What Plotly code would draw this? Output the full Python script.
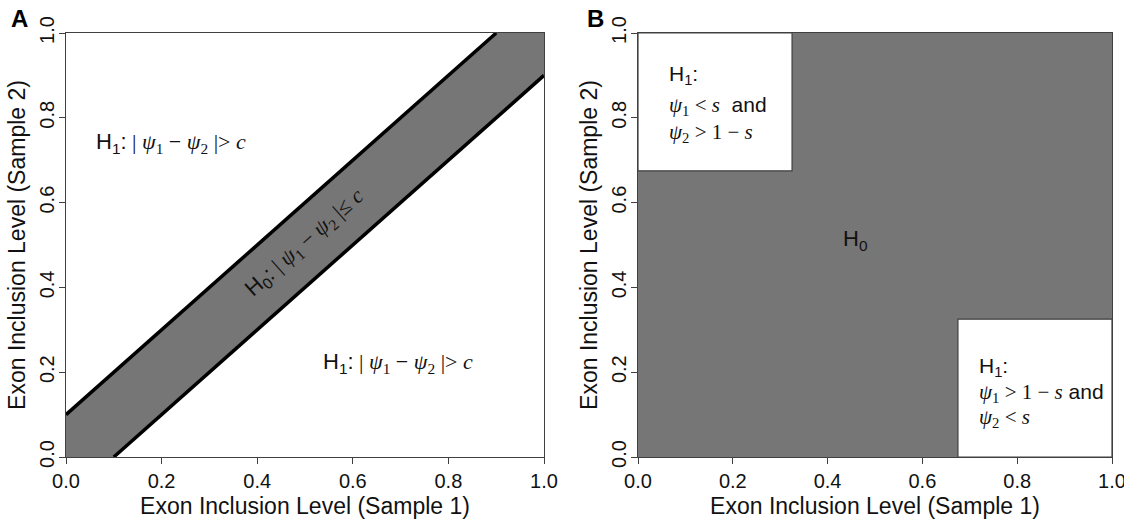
import plotly.graph_objects as go

# ---- data ----
c = 0.1            # band half-width in panel A
s = 0.325          # threshold in panel B
ticks = [0.0, 0.2, 0.4, 0.6, 0.8, 1.0]
tick_labels = ["0.0", "0.2", "0.4", "0.6", "0.8", "1.0"]
xtitle = "Exon Inclusion Level (Sample 1)"
ytitle = "Exon Inclusion Level (Sample 2)"

GRAY = "#767676"
FRAME = "#404040"
SANS = "Liberation Sans, Arial, sans-serif"
SERIF = "Liberation Serif, Times New Roman, serif"

W, H = 1124, 524
fig = go.Figure()

# Panel A: band |psi1 - psi2| <= c
band_x = [0, 0, 1 - c, 1, 1, c, 0]
band_y = [0, c, 1, 1, 1 - c, 0, 0]
fig.add_trace(go.Scatter(x=band_x, y=band_y, fill="toself", fillcolor=GRAY,
                         mode="lines", line=dict(width=0), xaxis="x", yaxis="y",
                         hoverinfo="skip", showlegend=False))
fig.add_trace(go.Scatter(x=[0, 1 - c], y=[c, 1], mode="lines",
                         line=dict(color="black", width=3.5), xaxis="x", yaxis="y",
                         showlegend=False))
fig.add_trace(go.Scatter(x=[c, 1], y=[0, 1 - c], mode="lines",
                         line=dict(color="black", width=3.5), xaxis="x", yaxis="y",
                         showlegend=False))

# Panel B: gray H0 region with two white H1 boxes
fig.add_trace(go.Scatter(x=[0, 1, 1, 0, 0], y=[0, 0, 1, 1, 0], fill="toself",
                         fillcolor=GRAY, mode="lines", line=dict(width=0),
                         xaxis="x2", yaxis="y2", hoverinfo="skip", showlegend=False))
fig.add_trace(go.Scatter(x=[0, s, s, 0, 0], y=[1 - s, 1 - s, 1, 1, 1 - s], fill="toself",
                         fillcolor="white", mode="lines", line=dict(color=FRAME, width=1.2),
                         xaxis="x2", yaxis="y2", hoverinfo="skip", showlegend=False))
fig.add_trace(go.Scatter(x=[1 - s, 1, 1, 1 - s, 1 - s], y=[0, 0, s, s, 0], fill="toself",
                         fillcolor="white", mode="lines", line=dict(color=FRAME, width=1.2),
                         xaxis="x2", yaxis="y2", hoverinfo="skip", showlegend=False))

x1d = [66 / W, 544 / W]
x2d = [638 / W, 1112 / W]
yd = [(H - 457) / H, (H - 33) / H]

def xax(domain, anchor):
    return dict(domain=domain, anchor=anchor, range=[0, 1], showgrid=False, zeroline=False,
                showline=True, linecolor=FRAME, linewidth=1, mirror=True,
                ticks="outside", ticklen=6, tickcolor=FRAME, tickvals=ticks, ticktext=tick_labels,
                tickfont=dict(family=SANS, size=20, color="#111"),
                ticklabeloverflow="allow",
                title=dict(text=xtitle, font=dict(family=SANS, size=23, color="#111"), standoff=6),
                automargin=False, fixedrange=True)

def yax(anchor):
    return dict(domain=yd, anchor=anchor, range=[0, 1], showgrid=False, zeroline=False,
                showline=True, linecolor=FRAME, linewidth=1, mirror=True,
                ticks="outside", ticklen=6, tickcolor=FRAME, tickvals=ticks, ticktext=tick_labels,
                tickangle=-90, ticklabelstandoff=-3, ticklabeloverflow="allow",
                tickfont=dict(family=SANS, size=20, color="#111"),
                title=dict(text=ytitle, font=dict(family=SANS, size=23, color="#111"), standoff=3),
                automargin=False, fixedrange=True)

sp = lambda t: f'<span style="font-family:{SERIF}">{t}</span>'
h1_A = 'H<sub>1</sub>:' + sp(' | <i>ψ</i><sub>1</sub> − <i>ψ</i><sub>2</sub> |&gt; <i>c</i>')
h0_A = 'H<sub>0</sub>:' + sp(' | <i>ψ</i><sub>1</sub> − <i>ψ</i><sub>2</sub> |≤ <i>c</i>')

ann = []
base = dict(showarrow=False, font=dict(family=SANS, size=22, color="#111"))
ann.append(dict(base, x=0.22, y=0.74, xref="x", yref="y", text=h1_A))
ann.append(dict(base, x=0.695, y=0.222, xref="x", yref="y", text=h1_A))
ann.append(dict(base, x=0.5, y=0.505, xref="x", yref="y", text=h0_A, textangle=-41.6))
ann.append(dict(base, x=0.458, y=0.512, xref="x2", yref="y2", text="H<sub>0</sub>"))

# boxes text
left = dict(showarrow=False, font=dict(family=SANS, size=21, color="#111"),
            xanchor="left", xref="x2", yref="y2")
ann.append(dict(left, x=0.061, y=0.901, text="H<sub>1</sub>:"))
ann.append(dict(left, x=0.061, y=0.828, text=sp('<i>ψ</i><sub>1</sub> &lt; <i>s</i>') + '  and'))
ann.append(dict(left, x=0.061, y=0.764, text=sp('<i>ψ</i><sub>2</sub> &gt; 1 − <i>s</i>')))
ann.append(dict(left, x=0.715, y=0.212, text="H<sub>1</sub>:"))
ann.append(dict(left, x=0.715, y=0.151, text=sp('<i>ψ</i><sub>1</sub> &gt; 1 − <i>s</i>') + ' and'))
ann.append(dict(left, x=0.715, y=0.092, text=sp('<i>ψ</i><sub>2</sub> &lt; <i>s</i>')))

# panel letters
ann.append(dict(showarrow=False, xref="paper", yref="paper", x=19 / W, y=1 - 18 / H,
                xanchor="center", yanchor="middle",
                text="<b>A</b>", font=dict(family=SANS, size=24, color="black")))
ann.append(dict(showarrow=False, xref="paper", yref="paper", x=595 / W, y=1 - 18 / H,
                xanchor="center", yanchor="middle",
                text="<b>B</b>", font=dict(family=SANS, size=24, color="black")))

fig.update_layout(
    width=W, height=H, margin=dict(l=0, r=0, t=0, b=0),
    paper_bgcolor="white", plot_bgcolor="white",
    xaxis=xax(x1d, "y"), yaxis=yax("x"),
    xaxis2=xax(x2d, "y2"), yaxis2=yax("x2"),
    annotations=ann, showlegend=False,
)
fig.write_html("out.html", config={"displayModeBar": False},
               post_script="document.body.style.margin='0';document.body.style.overflow='hidden';")
